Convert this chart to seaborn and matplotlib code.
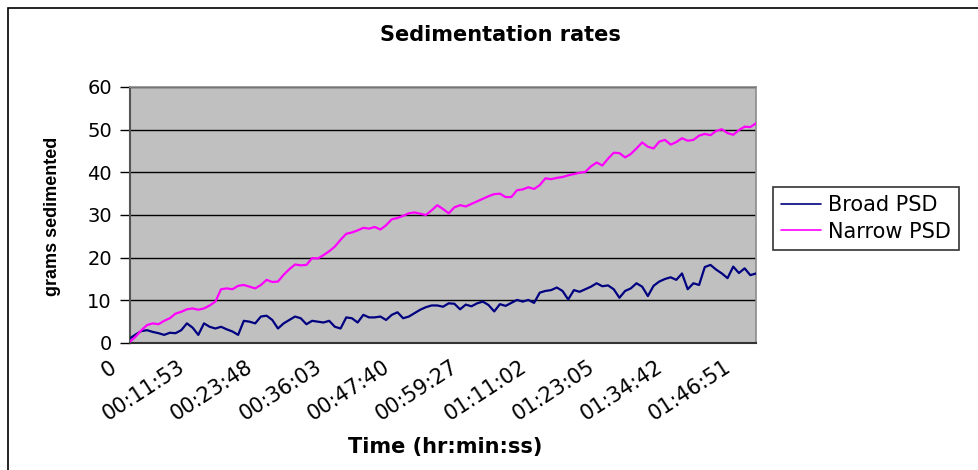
import numpy as np
import pandas as pd
import matplotlib
matplotlib.use("Agg")
import matplotlib.pyplot as plt
import matplotlib.transforms as mtransforms
from matplotlib.patches import Rectangle
import seaborn as sns

# Elapsed-time labels shown along the category axis (one every 12 readings)
time_labels = ["0", "00:11:53", "00:23:48", "00:36:03", "00:47:40",
               "00:59:27", "01:11:02", "01:23:05", "01:34:42", "01:46:51"]

# Cumulative mass sedimented (g) for each reading
broad_psd = [1.1, 2.0, 2.8, 3.0, 2.6, 2.3, 1.9, 2.4, 2.3, 3.0,
             4.6, 3.6, 1.9, 4.6, 3.8, 3.4, 3.8, 3.2, 2.7, 1.9,
             5.2, 5.0, 4.6, 6.2, 6.4, 5.4, 3.4, 4.6, 5.4, 6.2,
             5.8, 4.4, 5.2, 5.0, 4.8, 5.2, 3.8, 3.4, 6.0, 5.8,
             4.8, 6.6, 6.0, 6.0, 6.2, 5.4, 6.6, 7.2, 5.8, 6.2,
             7.0, 7.8, 8.4, 8.8, 8.8, 8.5, 9.3, 9.2, 7.9, 9.0,
             8.6, 9.3, 9.7, 8.9, 7.4, 9.1, 8.7, 9.4, 10.1, 9.7,
             10.1, 9.4, 11.8, 12.2, 12.4, 13.0, 12.2, 10.2, 12.4, 12.0,
             12.6, 13.2, 14.0, 13.3, 13.5, 12.6, 10.6, 12.2, 12.8, 14.0,
             13.2, 11.0, 13.4, 14.4, 15.0, 15.4, 14.8, 16.3, 12.6, 14.0,
             13.6, 17.8, 18.3, 17.2, 16.3, 15.2, 17.9, 16.4, 17.5, 15.9,
             16.3]

narrow_psd = [0.3, 1.5, 3.0, 4.2, 4.6, 4.4, 5.2, 5.8, 6.9, 7.3,
              7.9, 8.1, 7.8, 8.1, 8.8, 9.7, 12.6, 12.8, 12.6, 13.4,
              13.6, 13.2, 12.8, 13.6, 14.8, 14.3, 14.4, 16.0, 17.3, 18.4,
              18.2, 18.3, 19.9, 19.8, 20.6, 21.5, 22.6, 24.2, 25.6, 25.9,
              26.4, 27.0, 26.8, 27.2, 26.6, 27.6, 29.0, 29.3, 29.8, 30.4,
              30.6, 30.3, 30.0, 31.1, 32.3, 31.4, 30.4, 31.8, 32.3, 32.0,
              32.6, 33.2, 33.8, 34.4, 34.9, 35.0, 34.2, 34.2, 35.8, 36.0,
              36.5, 36.1, 37.0, 38.6, 38.4, 38.7, 38.9, 39.3, 39.6, 39.9,
              40.1, 41.4, 42.3, 41.6, 43.2, 44.6, 44.5, 43.5, 44.3, 45.6,
              47.0, 46.0, 45.6, 47.2, 47.6, 46.5, 47.1, 48.0, 47.4, 47.6,
              48.6, 49.0, 48.7, 49.7, 50.1, 49.2, 48.8, 49.9, 50.7, 50.6,
              51.5]

series_names = ["Broad PSD", "Narrow PSD"]
series_colors = ["#000080", "#FF00FF"]

reading = np.arange(len(broad_psd))
df = pd.concat([
    pd.DataFrame({"reading": reading, "grams": broad_psd, "series": series_names[0]}),
    pd.DataFrame({"reading": reading, "grams": narrow_psd, "series": series_names[1]}),
])

sns.set_style("white")
plt.rcParams["font.family"] = ["DejaVu Sans"]
plt.rcParams["text.color"] = "black"
plt.rcParams["xtick.color"] = "black"
plt.rcParams["ytick.color"] = "black"
plt.rcParams["axes.labelcolor"] = "black"

W, H = 979, 470
fig = plt.figure(figsize=(W / 100, H / 100), dpi=100)
fig.patch.set_facecolor("white")

# chart-area frame
fig.patches.append(Rectangle((8 / W, -0.05), 1.2, 1 - 8 / H + 0.05,
                             transform=fig.transFigure, fill=False,
                             edgecolor="black", linewidth=1.2, zorder=0))

ax = fig.add_axes([130 / W, 1 - 343 / H, (756 - 130) / W, (343 - 87) / H])
ax.set_facecolor("#C0C0C0")

sns.lineplot(data=df, x="reading", y="grams", hue="series",
             palette=dict(zip(series_names, series_colors)),
             linewidth=1.6, ax=ax, legend=False, zorder=3)

ax.set_xlim(0, len(broad_psd) - 1)
ax.set_ylim(0, 60)
ax.set_yticks(np.arange(0, 61, 10))
ax.yaxis.grid(True, color="black", linewidth=1.0)
ax.xaxis.grid(False)
ax.set_axisbelow(True)

tick_step = 12
ax.set_xticks(np.arange(len(time_labels)) * tick_step)
ax.set_xticklabels(time_labels, rotation=33, ha="right", va="top", fontsize=15)
ax.tick_params(axis="x", length=0, pad=10)
ax.tick_params(axis="y", direction="out", length=7, width=1, color="black",
               labelsize=14, pad=6, left=True)
shift = mtransforms.ScaledTranslation(-10 / 100, 0, fig.dpi_scale_trans)
for lbl in ax.get_xticklabels():
    lbl.set_transform(lbl.get_transform() + shift)

ax.set_xlabel("")
ax.set_ylabel("")
for side, col, lw in [("left", "#555555", 1.5), ("bottom", "#333333", 1.5),
                      ("top", "#8c8c8c", 1.2), ("right", "#8c8c8c", 1.2)]:
    ax.spines[side].set_visible(True)
    ax.spines[side].set_color(col)
    ax.spines[side].set_linewidth(lw)

fig.text(500 / W, 1 - 35 / H, "Sedimentation rates", ha="center", va="center",
         fontsize=15, fontweight="bold")
fig.text(445 / W, 1 - 447 / H, "Time (hr:min:ss)", ha="center", va="center",
         fontsize=15, fontweight="bold")
fig.text(53 / W, 1 - 216 / H, "grams sedimented", ha="center", va="center",
         rotation=90, fontsize=13, fontweight="bold",
         family=["Liberation Sans", "DejaVu Sans"])

handles = [plt.Line2D([], [], color=c, linewidth=1.2) for c in series_colors]
leg = fig.legend(handles, series_names, loc="upper left",
                 bbox_to_anchor=(773 / W, 1 - 187 / H), bbox_transform=fig.transFigure,
                 borderaxespad=0, fontsize=15, frameon=True, fancybox=False,
                 edgecolor="black", handlelength=1.9, handletextpad=0.35,
                 labelspacing=0.3, borderpad=0.4)
leg.get_frame().set_linewidth(1.2)

fig.savefig("out.png", dpi=100)
